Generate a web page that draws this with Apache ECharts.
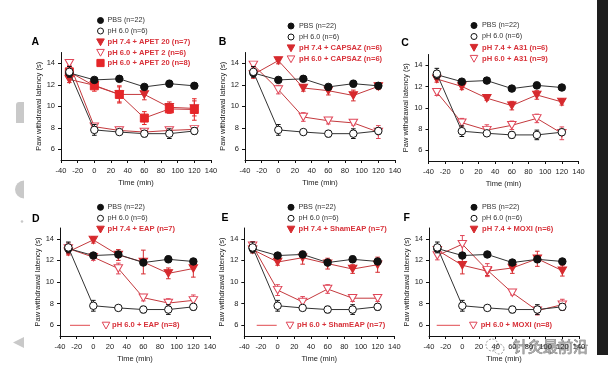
<!DOCTYPE html>
<html><head><meta charset="utf-8">
<script src="https://cdn.jsdelivr.net/npm/echarts@6/dist/echarts.min.js"></script>
<style>html,body{margin:0;padding:0;background:#fff}#c{width:608px;height:373px}</style>
</head><body><div id="c"></div>
<script>
// ---------- data ----------
const times = [-30, 0, 30, 60, 90, 120];
const yTicks = [6, 8, 10, 12, 14];
const xMin = -40, xMax = 140, xStep = 20;
const yMin = 5, yMax = 15;
const panelLetters = ['A', 'B', 'C', 'D', 'E', 'F'];
const yName = 'Paw withdrawal latency (s)';
const xName = 'Time (min)';

const pbsLabel = 'PBS (n=22)';
const pbsVals = [13.1, 12.45, 12.55, 11.8, 12.1, 11.9];
const pbsErr  = [0.25, 0.2, 0.25, 0.2, 0.3, 0.25];
const ph6Label = 'pH 6.0 (n=6)';
const ph6Vals = [13.2, 7.8, 7.6, 7.45, 7.45, 7.7];
const ph6Err  = [0.5, 0.5, 0.2, 0.3, 0.45, 0.3];

// A
const aLabels = ['pH 7.4 + APET 20 (n=7)', 'pH 6.0 + APET 2 (n=6)', 'pH 6.0 + APET 20 (n=8)'];
const aApet20ph74 = [12.5, 11.95, 11.1, 11.1, 9.9, 9.8];
const aApet20ph74Err = [0.3, 0.3, 0.7, 0.5, 0.5, 0.7];
const aApet2ph6 = [14.0, 8.1, 7.75, 7.6, 7.75, 7.85];
const aApet2ph6Err = [0.2, 0.25, 0.3, 0.2, 0.2, 0.2];
const aApet20ph6 = [13.2, 11.9, 11.1, 8.9, 9.75, 9.7];
const aApet20ph6Err = [0.5, 0.5, 0.8, 0.6, 0.4, 1.0];
// B
const bLabels = ['pH 7.4 + CAPSAZ (n=6)', 'pH 6.0 + CAPSAZ (n=6)'];
const bCapsaz74 = [12.95, 14.25, 11.7, 11.45, 11.0, 11.85];
const bCapsaz74Err = [0.35, 0.3, 0.3, 0.4, 0.5, 0.3];
const bCapsaz60 = [13.85, 11.55, 9.0, 8.65, 8.45, 7.6];
const bCapsaz60Err = [0.2, 0.4, 0.4, 0.3, 0.2, 0.6];
// C
const cLabels = ['pH 7.4 + A31 (n=6)', 'pH 6.0 + A31 (n=9)'];
const cA31ph74 = [12.7, 12.0, 10.9, 10.2, 11.2, 10.55];
const cA31ph74Err = [0.3, 0.3, 0.2, 0.4, 0.4, 0.3];
const cA31ph6 = [11.45, 8.6, 7.9, 8.35, 9.0, 7.6];
const cA31ph6Err = [0.3, 0.4, 0.5, 0.4, 0.4, 0.6];
// D
const dLabels = ['pH 7.4 + EAP (n=7)', 'pH 6.0 + EAP (n=8)'];
const dEap74 = [12.8, 13.9, 12.5, 11.85, 10.8, 11.25];
const dEap74Err = [0.3, 0.3, 0.5, 1.1, 0.5, 0.8];
const dEap60 = [13.1, 12.3, 11.25, 8.55, 8.05, 8.3];
const dEap60Err = [0.5, 0.3, 0.5, 0.3, 0.4, 0.5];
// E
const eLabels = ['pH 7.4 + ShamEAP (n=7)', 'pH 6.0 + ShamEAP (n=7)'];
const eSham74 = [13.0, 11.85, 12.25, 11.7, 11.2, 11.6];
const eSham74Err = [0.3, 0.3, 0.6, 0.5, 0.4, 0.7];
const eSham60 = [13.35, 9.25, 8.15, 9.35, 8.5, 8.5];
const eSham60Err = [0.4, 0.5, 0.5, 0.4, 0.3, 0.3];
// F
const fLabels = ['pH 7.4 + MOXI (n=6)', 'pH 6.0 + MOXI (n=8)'];
const fMoxi74 = [12.95, 11.55, 11.0, 11.3, 12.15, 11.05];
const fMoxi74Err = [0.3, 0.8, 0.4, 0.5, 0.7, 0.5];
const fMoxi60 = [12.45, 13.5, 11.1, 9.0, 7.35, 7.9];
const fMoxi60Err = [0.4, 0.8, 0.6, 0.2, 0.4, 0.5];

const watermarkText = '针灸最前沿';

// ---------- styles / layout ----------
const FONT = '"Liberation Sans", Arial, sans-serif';
const BLACK = '#111', GLINE = '#333';
const RED = '#d62a2e', RED_OPEN = '#e04658', RED_LINE = '#c4393d', SQ = '#e52629';
const REDTXT = '#d8323a';
const STY = {
  fillCircle: {symbol: 'circle', size: 7.5, rot: 0, fill: BLACK, stroke: BLACK, line: GLINE, err: BLACK},
  openCircle: {symbol: 'circle', size: 7.5, rot: 0, fill: '#fff', stroke: BLACK, line: GLINE, err: BLACK},
  fillTri: {symbol: 'triangle', size: [8.5, 7.5], rot: 180, fill: RED, stroke: RED, line: RED_LINE, err: RED},
  openTri: {symbol: 'triangle', size: [8.5, 7.5], rot: 180, fill: '#fff', stroke: RED_OPEN, line: RED_LINE, err: RED_OPEN},
  square: {symbol: 'rect', size: 8, rot: 0, fill: SQ, stroke: SQ, line: RED_LINE, err: SQ}
};

const layout = [
  {left: 61, top: 52.5, width: 150, height: 107.5, letter: [35.3, 42.5], mx: 100.5, tx: 107.5, ys: [20.5, 31, 42, 52.5, 63]},
  {left: 245, top: 52.5, width: 150, height: 107.5, letter: [222.5, 42.5], mx: 291, tx: 299, ys: [26, 37, 48, 59]},
  {left: 428.5, top: 54.5, width: 150, height: 106.5, letter: [405, 43], mx: 474, tx: 482, ys: [25.5, 36.5, 47.5, 58.5]},
  {left: 60, top: 228, width: 150, height: 108, letter: [35.7, 219.3], mx: 100.5, tx: 107.5, ys: [207.3, 218.3, 229.3], bot: {x1: 70, x2: 90, mx: 106, tx: 112, y: 325.3}},
  {left: 244.3, top: 228, width: 150, height: 108, letter: [225, 217.7], mx: 291, tx: 298.5, ys: [207.3, 218.3, 229.3], bot: {x1: 256.7, x2: 276.7, mx: 290, tx: 297, y: 325.3}},
  {left: 429, top: 228, width: 150, height: 108, letter: [406.7, 217.7], mx: 474, tx: 482, ys: [207.3, 218.3, 229.3], bot: {x1: 436.7, x2: 460, mx: 473.3, tx: 480.7, y: 325.3}}
];

const base = [
  {name: pbsLabel, vals: pbsVals, err: pbsErr, kind: 'fillCircle'},
  {name: ph6Label, vals: ph6Vals, err: ph6Err, kind: 'openCircle'}
];
const panels = [
  [{name: aLabels[0], vals: aApet20ph74, err: aApet20ph74Err, kind: 'fillTri'},
   {name: aLabels[1], vals: aApet2ph6, err: aApet2ph6Err, kind: 'openTri'},
   {name: aLabels[2], vals: aApet20ph6, err: aApet20ph6Err, kind: 'square'}],
  [{name: bLabels[0], vals: bCapsaz74, err: bCapsaz74Err, kind: 'fillTri'},
   {name: bLabels[1], vals: bCapsaz60, err: bCapsaz60Err, kind: 'openTri'}],
  [{name: cLabels[0], vals: cA31ph74, err: cA31ph74Err, kind: 'fillTri'},
   {name: cLabels[1], vals: cA31ph6, err: cA31ph6Err, kind: 'openTri'}],
  [{name: dLabels[0], vals: dEap74, err: dEap74Err, kind: 'fillTri'},
   {name: dLabels[1], vals: dEap60, err: dEap60Err, kind: 'openTri', bottom: true}],
  [{name: eLabels[0], vals: eSham74, err: eSham74Err, kind: 'fillTri'},
   {name: eLabels[1], vals: eSham60, err: eSham60Err, kind: 'openTri', bottom: true}],
  [{name: fLabels[0], vals: fMoxi74, err: fMoxi74Err, kind: 'fillTri'},
   {name: fLabels[1], vals: fMoxi60, err: fMoxi60Err, kind: 'openTri', bottom: true}]
];

// ---------- build ----------
const grids = [], xAxes = [], yAxes = [], series = [], graphics = [];

function errSeries(g, p, color, z) {
  return {
    type: 'custom', xAxisIndex: p, yAxisIndex: p, z: z, silent: true, clip: false,
    data: times.map((t, i) => [t, g.vals[i], g.err[i]]),
    encode: {x: 0, y: 1},
    renderItem: function (params, api) {
      const x = api.value(0), y = api.value(1), e = api.value(2);
      const a = api.coord([x, y + e]), b = api.coord([x, y - e]);
      const w = 2.3, st = {stroke: color, lineWidth: 1};
      return {type: 'group', children: [
        {type: 'line', shape: {x1: a[0], y1: a[1], x2: b[0], y2: b[1]}, style: st},
        {type: 'line', shape: {x1: a[0] - w, y1: a[1], x2: a[0] + w, y2: a[1]}, style: st},
        {type: 'line', shape: {x1: b[0] - w, y1: b[1], x2: b[0] + w, y2: b[1]}, style: st}
      ]};
    }
  };
}

function lineSeries(g, p, z) {
  const s = STY[g.kind];
  return {
    type: 'line', name: g.name, xAxisIndex: p, yAxisIndex: p, z: z,
    data: times.map((t, i) => [t, g.vals[i]]),
    symbol: s.symbol, symbolSize: s.size, symbolRotate: s.rot, showAllSymbol: true,
    itemStyle: {color: s.fill, borderColor: s.stroke, borderWidth: 1},
    lineStyle: {color: s.line, width: 1},
    emphasis: {disabled: true}, silent: true, animation: false
  };
}

function marker(kind, cx, cy) {
  const s = STY[kind];
  const style = {fill: s.fill, stroke: s.stroke, lineWidth: 1};
  if (kind === 'fillCircle' || kind === 'openCircle')
    return {type: 'circle', shape: {cx: cx, cy: cy, r: 3}, style: style};
  if (kind === 'square')
    return {type: 'rect', shape: {x: cx - 3.6, y: cy - 3.6, width: 7.2, height: 7.2}, style: style};
  return {type: 'polygon', shape: {points: [[cx - 3.8, cy - 3.1], [cx + 3.8, cy - 3.1], [cx, cy + 3.7]]}, style: style};
}

function label(text, x, y, red) {
  return {type: 'text', x: x, y: y, style: {
    text: text, fill: red ? REDTXT : '#333', fontSize: red ? 7.6 : 7.2, fontWeight: red ? 'bold' : 'normal',
    fontFamily: FONT, align: 'left', verticalAlign: 'middle'}};
}

layout.forEach((L, p) => {
  grids.push({left: L.left, top: L.top, width: L.width, height: L.height, containLabel: false});
  xAxes.push({
    type: 'value', gridIndex: p, min: xMin, max: xMax, interval: xStep,
    name: xName, nameLocation: 'middle', nameGap: 19,
    nameTextStyle: {fontSize: 7.5, color: '#222', fontFamily: FONT},
    axisLine: {show: true, onZero: false, lineStyle: {color: '#111', width: 1}},
    axisTick: {show: true, length: 3, lineStyle: {color: '#111'}},
    axisLabel: {fontSize: 7.5, color: '#222', fontFamily: FONT, margin: 7},
    splitLine: {show: false}
  });
  yAxes.push({
    type: 'value', gridIndex: p, min: yMin, max: yMax,
    name: yName, nameLocation: 'middle', nameGap: 17,
    nameTextStyle: {fontSize: 7.5, color: '#222', fontFamily: FONT},
    axisLine: {show: true, onZero: false, lineStyle: {color: '#111', width: 1}},
    axisTick: {show: true, length: 3, customValues: yTicks, lineStyle: {color: '#111'}},
    axisLabel: {fontSize: 7.5, color: '#222', fontFamily: FONT, margin: 6, customValues: yTicks},
    splitLine: {show: false}
  });

  panels[p].forEach(g => {
    const s = STY[g.kind];
    series.push(errSeries(g, p, s.err, 2));
    series.push(lineSeries(g, p, 3));
  });
  base.forEach(g => {
    const s = STY[g.kind];
    series.push(errSeries(g, p, s.err, 4));
    series.push(lineSeries(g, p, 5));
  });

  graphics.push({type: 'text', x: L.letter[0], y: L.letter[1], style: {
    text: panelLetters[p], fill: '#000', fontSize: 10.5, fontWeight: 'bold', fontFamily: FONT,
    align: 'center', verticalAlign: 'middle'}});

  const items = base.concat(panels[p].filter(g => !g.bottom));
  items.forEach((g, k) => {
    const y = L.ys[k];
    graphics.push(marker(g.kind, L.mx, y));
    graphics.push(label(g.name, L.tx, y, k >= 2));
  });
  panels[p].filter(g => g.bottom).forEach(g => {
    const B = L.bot;
    graphics.push({type: 'line', shape: {x1: B.x1, y1: B.y, x2: B.x2, y2: B.y}, style: {stroke: '#e04a4f', lineWidth: 1}});
    graphics.push(marker(g.kind, B.mx, B.y));
    graphics.push(label(g.name, B.tx, B.y, true));
  });
});

// image artifacts: gray fragments at left edge, dark band at right edge
const GR = '#c9c9c9';
graphics.push({type: 'rect', shape: {x: 16, y: 102, width: 8, height: 21, r: [3, 0, 0, 0]}, style: {fill: GR}});
graphics.push({type: 'sector', shape: {cx: 24, cy: 189.5, r: 9, startAngle: Math.PI / 2, endAngle: Math.PI * 1.5}, style: {fill: GR}});
graphics.push({type: 'circle', shape: {cx: 22, cy: 221.5, r: 1.3}, style: {fill: GR}});
graphics.push({type: 'polygon', shape: {points: [[13, 342.5], [24, 337], [24, 348]]}, style: {fill: GR}});
graphics.push({type: 'rect', shape: {x: 597, y: 0, width: 11, height: 355}, style: {fill: '#1e1e1e'}});

// watermark
graphics.push({type: 'circle', shape: {cx: 492, cy: 345, r: 6}, style: {fill: 'none', stroke: '#999', lineWidth: 1, lineDash: [2, 1.5]}});
graphics.push({type: 'circle', shape: {cx: 499, cy: 349, r: 5}, style: {fill: 'none', stroke: '#999', lineWidth: 1, lineDash: [2, 1.5]}});
graphics.push({type: 'text', x: 513, y: 346, style: {
  text: watermarkText, fill: '#a8a8a8', stroke: '#666', lineWidth: 0.6, fontSize: 15,
  fontFamily: '"Noto Sans CJK SC", sans-serif', align: 'left', verticalAlign: 'middle'}});

const chart = echarts.init(document.getElementById('c'), null, {renderer: 'canvas'});
chart.setOption({
  animation: false,
  backgroundColor: '#fff',
  grid: grids, xAxis: xAxes, yAxis: yAxes, series: series,
  graphic: {elements: graphics}
});
</script>
</body></html>
